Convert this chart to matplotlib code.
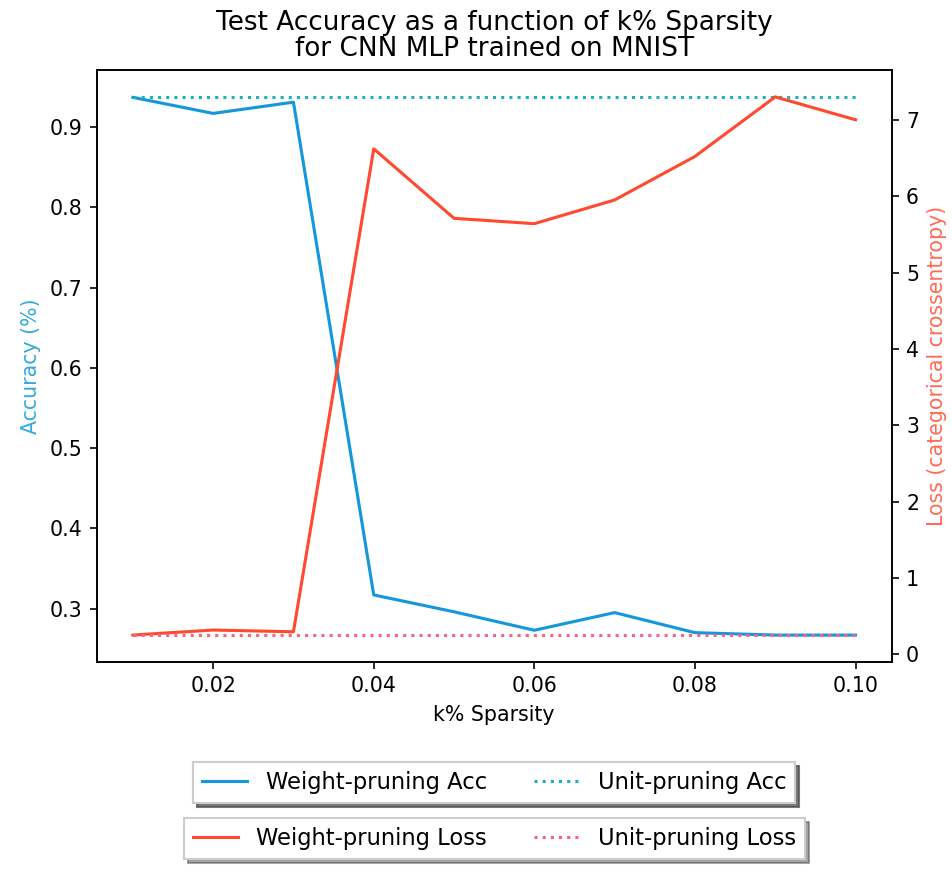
import matplotlib
matplotlib.use("Agg")
import matplotlib.pyplot as plt

sparsity = [0.01, 0.02, 0.03, 0.04, 0.05, 0.06, 0.07, 0.08, 0.09, 0.10]
weight_acc = [0.937, 0.917, 0.931, 0.317, 0.296, 0.273, 0.295, 0.270, 0.267, 0.267]
unit_acc = [0.9376] * 10
weight_loss = [0.254, 0.32, 0.297, 6.62, 5.71, 5.64, 5.95, 6.52, 7.30, 7.00]
unit_loss = [0.254] * 10

fig = plt.figure(figsize=(952 / 148, 879 / 148), dpi=148)
ax = fig.add_subplot(111)
fig.subplots_adjust(left=0.1016, right=0.9366, top=0.9204, bottom=0.2469)
ax2 = ax.twinx()

l1, = ax.plot(sparsity, weight_acc, color="#1497db", lw=1.5, label="Weight-pruning Acc")
l2, = ax.plot(sparsity, unit_acc, color="#1fb0bb", lw=1.5, ls=":", label="Unit-pruning Acc")
l3, = ax2.plot(sparsity, weight_loss, color="#ff4a30", lw=1.5, label="Weight-pruning Loss")
l4, = ax2.plot(sparsity, unit_loss, color="#f56585", lw=1.5, ls=":", label="Unit-pruning Loss")

ax.set_title("Test Accuracy as a function of k% Sparsity\nfor CNN MLP trained on MNIST",
             fontsize=12.8, linespacing=1.0, pad=7)
ax.set_xlabel("k% Sparsity")
ax.set_ylabel("Accuracy (%)", color="#33aadd")
ax2.set_ylabel("Loss (categorical crossentropy)", color="#ff6a55")
ax.set_xticks([0.02, 0.04, 0.06, 0.08, 0.10])

leg1 = ax.legend(handles=[l1, l2], loc="upper center", bbox_to_anchor=(0.5, -0.169),
                 borderaxespad=0, ncol=2, shadow=True, fancybox=False,
                 columnspacing=2.1, fontsize=11)
ax.add_artist(leg1)
ax2.legend(handles=[l3, l4], loc="upper center", bbox_to_anchor=(0.5, -0.2635),
           borderaxespad=0, ncol=2, shadow=True, fancybox=False,
           columnspacing=2.1, fontsize=11)

fig.savefig("out.png", dpi=148)
